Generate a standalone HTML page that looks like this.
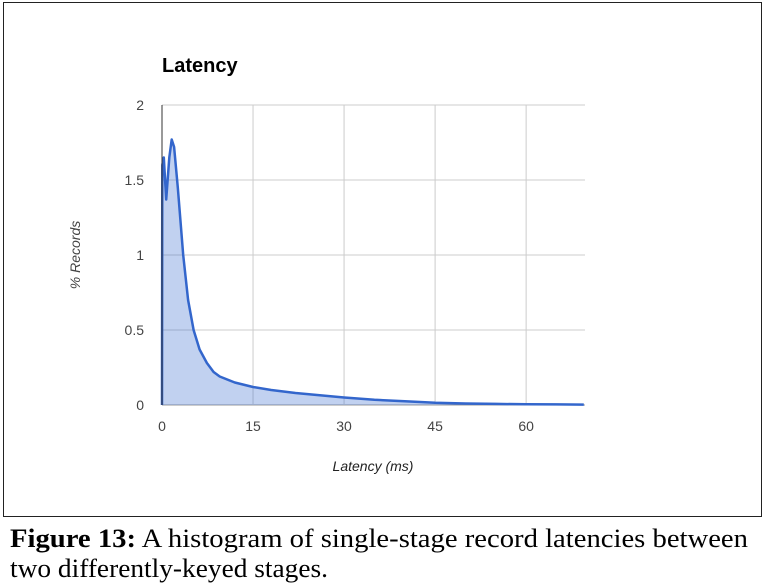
<!DOCTYPE html>
<html><head><meta charset="utf-8"><style>
body{margin:0;background:#fff;}
svg{display:block;}
</style></head><body>
<svg id="chart" width="776" height="588" xmlns="http://www.w3.org/2000/svg">
<rect x="3.5" y="2.5" width="758" height="514" fill="#fff" stroke="#222" stroke-width="1"/>
<text x="162" y="72" font-family="Liberation Sans, sans-serif" font-size="20" font-weight="bold" fill="#000">Latency</text>
<g id="grid"></g>
<g id="yticks"></g>
<g id="xticks"></g>
<path id="area" fill="#3366cc" fill-opacity="0.3" stroke="none"/>
<path id="line" fill="none" stroke="#3366cc" stroke-width="2.5" stroke-linejoin="round"/>
<line x1="162" y1="105" x2="162" y2="405" stroke="#333" stroke-width="1"/>
<text transform="translate(80,255) rotate(-90)" text-anchor="middle" font-family="Liberation Sans, sans-serif" font-style="italic" font-size="14" fill="#444">% Records</text>
<text x="373" y="471" text-anchor="middle" font-family="Liberation Sans, sans-serif" font-style="italic" font-size="14" fill="#222">Latency (ms)</text>
<text x="10" y="547" font-family="Liberation Serif, serif" font-size="26" fill="#000" textLength="738" lengthAdjust="spacingAndGlyphs"><tspan font-weight="bold">Figure 13:</tspan> A histogram of single-stage record latencies between</text>
<text x="10" y="577" font-family="Liberation Serif, serif" font-size="26" fill="#000" textLength="318" lengthAdjust="spacingAndGlyphs">two differently-keyed stages.</text>
</svg>
<script>
const latency = [0,0.05,0.3,0.7,1.2,1.6,2.0,2.6,3.5,4.3,5.2,6.2,7.4,8.5,9.5,12,15,18,22,26,30,35,40,45,50,55,60,65,69.5];
const pct = [0,1.6,1.65,1.37,1.65,1.77,1.72,1.45,1.0,0.7,0.5,0.37,0.28,0.22,0.19,0.15,0.12,0.1,0.08,0.065,0.05,0.035,0.025,0.015,0.01,0.007,0.005,0.004,0.003];
const xTicks = [0,15,30,45,60];
const yTicks = [0,0.5,1,1.5,2];

const X0=162,X1=585,Y0=405,Y1=105,XMAX=69.7,YMAX=2;
const sx=v=>X0+v/XMAX*(X1-X0);
const sy=v=>Y0-v/YMAX*(Y0-Y1);
const NS="http://www.w3.org/2000/svg";
const grid=document.getElementById('grid'),yt=document.getElementById('yticks'),xt=document.getElementById('xticks');
yTicks.forEach(t=>{
  const l=document.createElementNS(NS,'line');
  l.setAttribute('x1',X0);l.setAttribute('x2',X1);l.setAttribute('y1',sy(t));l.setAttribute('y2',sy(t));
  l.setAttribute('stroke',t===0?'#999':'#ccc');
  
  
  grid.appendChild(l);
  const tx=document.createElementNS(NS,'text');
  tx.setAttribute('x',144);tx.setAttribute('y',sy(t)+5);tx.setAttribute('text-anchor','end');
  tx.setAttribute('font-family','Liberation Sans, sans-serif');tx.setAttribute('font-size','14');tx.setAttribute('fill','#444');
  tx.textContent=String(t);
  
  
  yt.appendChild(tx);
});
xTicks.forEach(t=>{
  if(t>0){
    const l=document.createElementNS(NS,'line');
    l.setAttribute('x1',sx(t));l.setAttribute('x2',sx(t));l.setAttribute('y1',Y1);l.setAttribute('y2',Y0);
    l.setAttribute('stroke','#ccc');
    
    
    grid.appendChild(l);
  }
  const tx=document.createElementNS(NS,'text');
  tx.setAttribute('x',sx(t));tx.setAttribute('y',431);tx.setAttribute('text-anchor','middle');
  tx.setAttribute('font-family','Liberation Sans, sans-serif');tx.setAttribute('font-size','14');tx.setAttribute('fill','#444');
  tx.textContent=String(t);
  
  
  xt.appendChild(tx);
});
let d='';
latency.forEach((v,i)=>{d+=(i?'L':'M')+sx(v).toFixed(1)+','+sy(pct[i]).toFixed(1);});
document.getElementById('line').setAttribute('d',d);
document.getElementById('area').setAttribute('d',d+'L'+sx(latency[latency.length-1]).toFixed(1)+','+Y0+'L'+sx(latency[0]).toFixed(1)+','+Y0+'Z');
</script>
</body></html>
